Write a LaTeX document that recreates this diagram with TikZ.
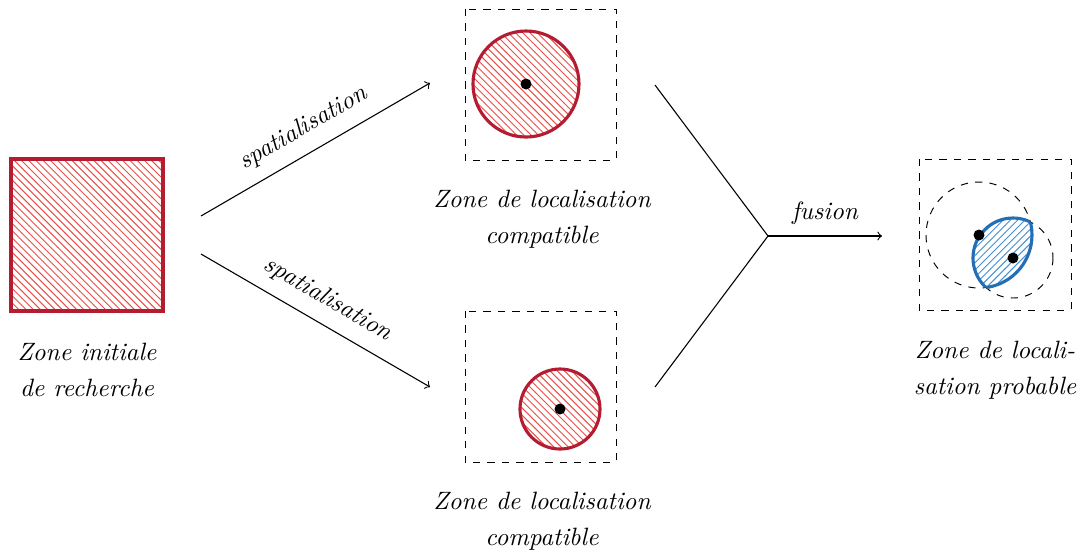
\documentclass[tikz,border=0pt]{standalone}
\usetikzlibrary{patterns}
\definecolor{zred}{RGB}{180,28,50}
\definecolor{zhatch}{RGB}{232,80,75}
\definecolor{zblue}{RGB}{35,110,180}
\definecolor{zbhatch}{RGB}{70,145,210}
\begin{document}
\begin{tikzpicture}[x=0.415pt,y=-0.415pt,
  zone/.style={draw=zred, line width=1.3pt, pattern=north west lines, pattern color=zhatch},
  frame/.style={draw, dashed, line width=0.4pt},
  ghost/.style={draw, dashed, line width=0.4pt},
  lens/.style={draw=zblue, line width=1.3pt},
  dot/.style={fill=black},
  lbl/.style={font=\fontsize{10.4}{15}\selectfont\itshape, align=center, inner sep=0pt},
  conn/.style={line width=0.45pt},
  slbl/.style={font=\fontsize{10.4}{12}\selectfont\itshape, sloped, above=2pt}]
\useasboundingbox (0,0) rectangle (1085,551);

% initial zone
\draw[zone] (11,159) rectangle (163,311);
\node[lbl] (l0) at (87,370) {Zone initiale\\de recherche};

% top compatible zone
\draw[frame] (465,9) rectangle (616,160);
\draw[zone] (526,84) circle (53);
\fill[dot] (526,84) circle (5.5);
\node[lbl] (l1) at (542,219) {Zone de localisation\\compatible};

% bottom compatible zone
\draw[frame] (465,311) rectangle (616,462);
\draw[zone] (560,409) circle (40);
\fill[dot] (560,409) circle (5.5);
\node[lbl] (l2) at (542,521) {Zone de localisation\\compatible};

% probable zone
\draw[frame] (919,159) rectangle (1071,310);
\draw[ghost] (979,235) circle (53);
\draw[ghost] (1013,258) circle (40);
\begin{scope}
  \clip (979,235) circle (53);
  \fill[pattern=north east lines, pattern color=zbhatch] (1013,258) circle (40);
  \draw[lens] (1013,258) circle (40);
\end{scope}
\begin{scope}
  \clip (1013,258) circle (40);
  \draw[lens] (979,235) circle (53);
\end{scope}
\fill[dot] (979,235) circle (5.5);
\fill[dot] (1013,258) circle (5.5);
\node[lbl] (l3) at (995,370) {Zone de locali-\\sation probable};

% connectors
\coordinate (a1) at (201,216);
\coordinate (a2) at (430,83);
\coordinate (b1) at (201,254);
\coordinate (b2) at (430,387);
\coordinate (f1) at (655,85);
\coordinate (f2) at (655,387);
\coordinate (fm) at (768,236);
\coordinate (fe) at (882,236);

\draw[conn,->] (a1) -- node[slbl, pos=0.5] (s1) {spatialisation} (a2);
\draw[conn,->] (b1) -- node[slbl, pos=0.5] (s2) {spatialisation} (b2);
\draw[conn] (f1) -- (fm);
\draw[conn] (f2) -- (fm);
\draw[conn,->] (fm) -- node[font=\fontsize{10.4}{12}\selectfont\itshape, above=1pt] (s3) {fusion} (fe);
\end{tikzpicture}
\end{document}
